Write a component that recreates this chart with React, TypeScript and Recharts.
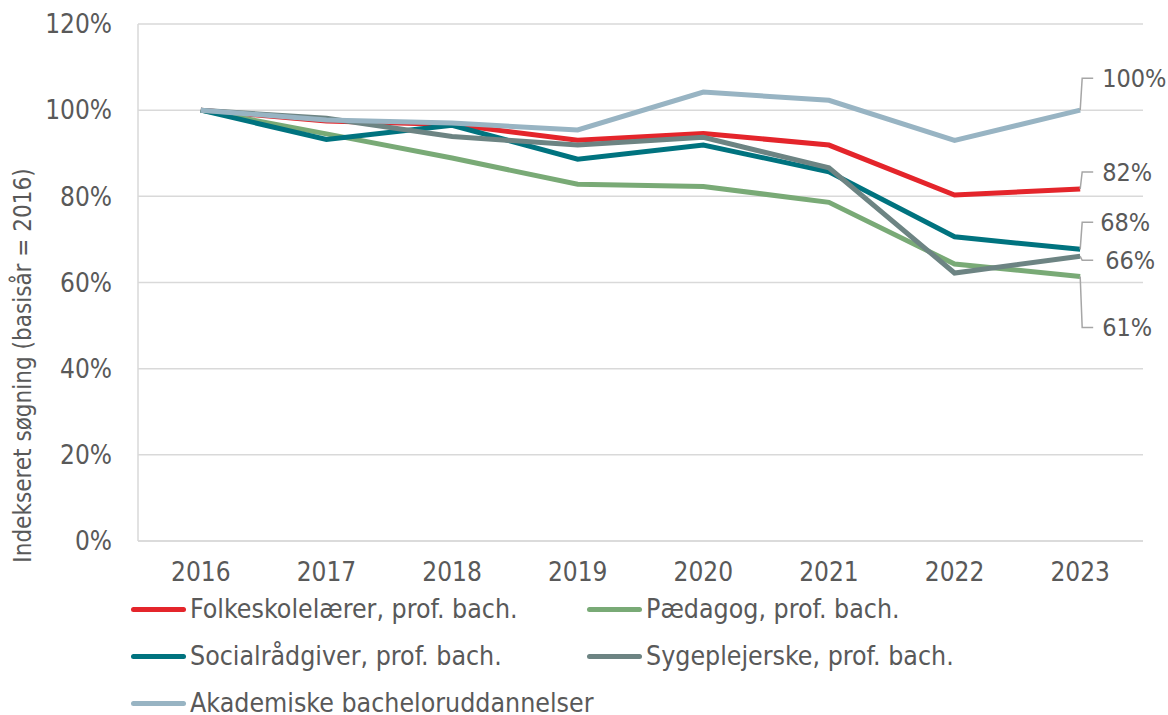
import React from "react";
import { LineChart, Line, XAxis, YAxis, CartesianGrid, Legend, LabelList } from "recharts";

const years = ["2016", "2017", "2018", "2019", "2020", "2021", "2022", "2023"];
const yTicks = [0, 20, 40, 60, 80, 100, 120];

const folkeskole = [100, 97.5, 96.7, 93.0, 94.6, 91.9, 80.3, 81.7];
const paedagog = [100, 94.5, 88.9, 82.8, 82.3, 78.6, 64.3, 61.4];
const social = [100, 93.2, 96.5, 88.6, 91.9, 85.7, 70.6, 67.7];
const sygepl = [100, 98.1, 93.9, 91.9, 93.7, 86.6, 62.2, 66.1];
const akademisk = [100, 97.7, 97.0, 95.4, 104.2, 102.3, 93.0, 100];

const seriesNames = [
  "Folkeskolelærer, prof. bach.",
  "Pædagog, prof. bach.",
  "Socialrådgiver, prof. bach.",
  "Sygeplejerske, prof. bach.",
  "Akademiske bacheloruddannelser",
];

const data = years.map((y, i) => ({
  year: y,
  folkeskole: folkeskole[i],
  paedagog: paedagog[i],
  social: social[i],
  sygepl: sygepl[i],
  akademisk: akademisk[i],
}));

const FONT = "'DejaVu Sans Condensed', 'DejaVu Sans', sans-serif";
const TEXT = "#595959";

// key, colour, label offset (dy) and text shift (dx)
const series = [
  { key: "folkeskole", color: "#e4252b", dy: -17, dx: 22 },
  { key: "paedagog", color: "#79aa76", dy: 51, dx: 22 },
  { key: "social", color: "#00737f", dy: -27, dx: 20 },
  { key: "sygepl", color: "#6d8483", dy: 4, dx: 25 },
  { key: "akademisk", color: "#98b4c3", dy: -32, dx: 22 },
];

const endLabel = (dy: number, dx: number) => (props: any) => {
  const { x, y, index, value } = props;
  if (index !== years.length - 1) return null;
  const cy = y + dy;
  return (
    <g>
      <path
        d={`M${x},${y} L${x + 2},${cy} L${x + 13},${cy}`}
        stroke="#a6a6a6"
        strokeWidth={1.5}
        fill="none"
      />
      <text x={x + dx} y={cy} dominantBaseline="central" fontSize={25} fill={TEXT} fontFamily={FONT}>
        {Math.round(value)}%
      </text>
    </g>
  );
};

const LegendContent = () => (
  <div style={{ position: "relative", width: 1168, height: 127, fontFamily: FONT }}>
    {series.map((s, i) => {
      const col = i % 2;
      const row = Math.floor(i / 2);
      return (
        <div
          key={s.key}
          style={{
            position: "absolute",
            left: col === 0 ? 131 : 587,
            top: row * 47 + 9,
            height: 24,
            display: "flex",
            alignItems: "center",
            whiteSpace: "nowrap",
          }}
        >
          <span
            style={{
              display: "inline-block",
              width: 55,
              height: 5,
              borderRadius: 3,
              background: s.color,
              marginRight: 4,
            }}
          />
          <span style={{ fontSize: 26.5, lineHeight: "24px", color: TEXT }}>{seriesNames[i]}</span>
        </div>
      );
    })}
  </div>
);

export default function App() {
  return (
    <div style={{ position: "absolute", left: 0, top: 0, background: "#fff" }}>
      <LineChart
        width={1168}
        height={715}
        data={data}
        margin={{ top: 24, right: 25, left: 0, bottom: 134 }}
      >
        <CartesianGrid vertical={false} stroke="#d9d9d9" strokeWidth={1.5} />
        <XAxis
          dataKey="year"
          scale="band"
          height={40}
          axisLine={{ stroke: "#d9d9d9", strokeWidth: 1.5 }}
          tickLine={false}
          tickMargin={16}
          tick={{ fill: TEXT, fontSize: 26, fontFamily: FONT }}
        />
        <YAxis
          width={138}
          domain={[0, 120]}
          ticks={yTicks}
          tickFormatter={(v) => `${v}%`}
          axisLine={{ stroke: "#d9d9d9", strokeWidth: 1.5 }}
          tickLine={false}
          tickMargin={20}
          tick={{ fill: TEXT, fontSize: 26, fontFamily: FONT }}
          label={{
            content: (p: any) => {
              const vb = p.viewBox;
              const cx = vb.x + 23;
              const cy = vb.y + vb.height / 2 + 83;
              return (
                <text
                  x={cx}
                  y={cy}
                  transform={`rotate(-90, ${cx}, ${cy})`}
                  textAnchor="middle"
                  dominantBaseline="central"
                  fontSize={24}
                  fill={TEXT}
                  fontFamily={FONT}
                >
                  Indekseret søgning (basisår = 2016)
                </text>
              );
            },
          }}
        />
        <YAxis
          yAxisId="frame"
          orientation="right"
          width={0}
          domain={[0, 120]}
          tick={false}
          tickLine={false}
          axisLine={{ stroke: "#d9d9d9", strokeWidth: 1.5 }}
        />
        <Legend
          layout="vertical"
          align="center"
          verticalAlign="middle"
          wrapperStyle={{ left: 0, top: 588, width: 1168 }}
          content={() => <LegendContent />}
        />
        {series.map((s, i) => (
          <Line
            key={s.key}
            dataKey={s.key}
            name={seriesNames[i]}
            stroke={s.color}
            strokeWidth={5}
            dot={false}
            activeDot={false}
            isAnimationActive={false}
          >
            <LabelList dataKey={s.key} content={endLabel(s.dy, s.dx)} />
          </Line>
        ))}
      </LineChart>
    </div>
  );
}
